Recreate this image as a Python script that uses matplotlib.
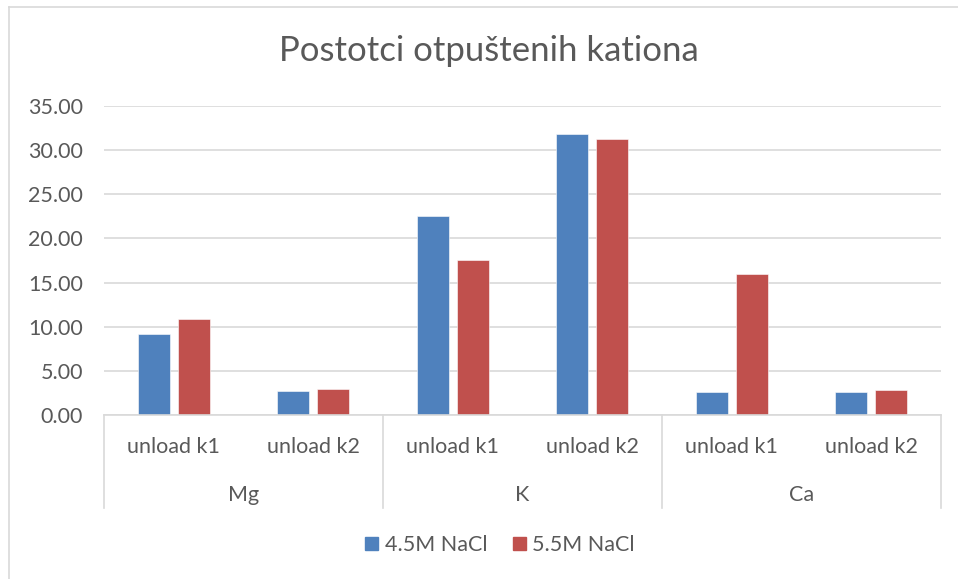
import matplotlib
matplotlib.use("Agg")
import matplotlib.pyplot as plt
import matplotlib.transforms as mtransforms
from matplotlib.patches import Patch
import numpy as np

# data
groups = ["Mg", "K", "Ca"]
subcats = ["unload k1", "unload k2"]
series_names = ["4.5M NaCl", "5.5M NaCl"]
vals_45 = [9.22, 2.76, 22.58, 31.75, 2.61, 2.60]
vals_55 = [10.84, 2.95, 17.58, 31.18, 16.02, 2.84]

BLUE = "#4F81BD"
RED = "#C0504D"
GRID = "#D9D9D9"
TXT = "#595959"
FONT = "Lato"
FS = 15.5

W, H = 958, 579
fig = plt.figure(figsize=(W / 100, H / 100), dpi=100, facecolor="white")

# outer chart border (cropped screenshot)
fig.add_artist(plt.Line2D([9 / W, 1], [1 - 7 / H, 1 - 7 / H], color=GRID, lw=1.2))
fig.add_artist(plt.Line2D([9 / W, 9 / W], [0, 1 - 7 / H], color=GRID, lw=1.2))

x0, x1, y_top, y_bot = 104, 941, 105.7, 415.3
ax = fig.add_axes([x0 / W, 1 - y_bot / H, (x1 - x0) / W, (y_bot - y_top) / H])

n = len(vals_45)
x = np.arange(n)
bw = 0.23
off = 0.142
ax.bar(x - off, vals_45, bw, color=BLUE, edgecolor="white", linewidth=0.4, zorder=3)
ax.bar(x + off, vals_55, bw, color=RED, edgecolor="white", linewidth=0.4, zorder=3)

ax.set_xlim(-0.5, n - 0.5)
ax.set_ylim(0, 35)
ax.set_yticks(np.arange(0, 36, 5))
ax.set_yticklabels([f"{v:.2f}" for v in np.arange(0, 36, 5)],
                   fontsize=FS, color=TXT, family=FONT)
ax.tick_params(axis="y", length=0, pad=15)
ax.set_xticks([])
ax.grid(axis="y", color=GRID, lw=1.2, zorder=0)
for s in ["top", "right", "left"]:
    ax.spines[s].set_visible(False)
ax.spines["bottom"].set_color(GRID)
ax.spines["bottom"].set_linewidth(1.2)
ax.spines["bottom"].set_zorder(4)

# multi-level category axis
trans = mtransforms.blended_transform_factory(ax.transData, ax.transAxes)
ph = y_bot - y_top
sep_bottom = -(508 - y_bot) / ph
for b in np.arange(-0.5, n, 2):
    ax.plot([b, b], [0, sep_bottom], transform=trans, color=GRID, lw=1.2, clip_on=False)
for i in range(n):
    ax.text(i, -(447 - y_bot) / ph, subcats[i % 2], transform=trans, ha="center",
            va="center", fontsize=FS, color=TXT, family=FONT)
for g, name in enumerate(groups):
    ax.text(2 * g + 0.5, -(495 - y_bot) / ph, name, transform=trans, ha="center",
            va="center", fontsize=FS, color=TXT, family=FONT)

fig.text(489 / W, 1 - 51 / H, "Postotci otpuštenih kationa", ha="center", va="center",
         fontsize=25, color=TXT, family=FONT)

handles = [Patch(color=BLUE), Patch(color=RED)]
fig.legend(handles, series_names, loc="center", bbox_to_anchor=(500 / W, 1 - 545 / H),
           ncol=2, frameon=False, handlelength=0.6, handleheight=0.6,
           handletextpad=0.3, columnspacing=1.2,
           prop={"family": FONT, "size": FS}, labelcolor=TXT)

fig.savefig("out.png", dpi=100, facecolor="white")
